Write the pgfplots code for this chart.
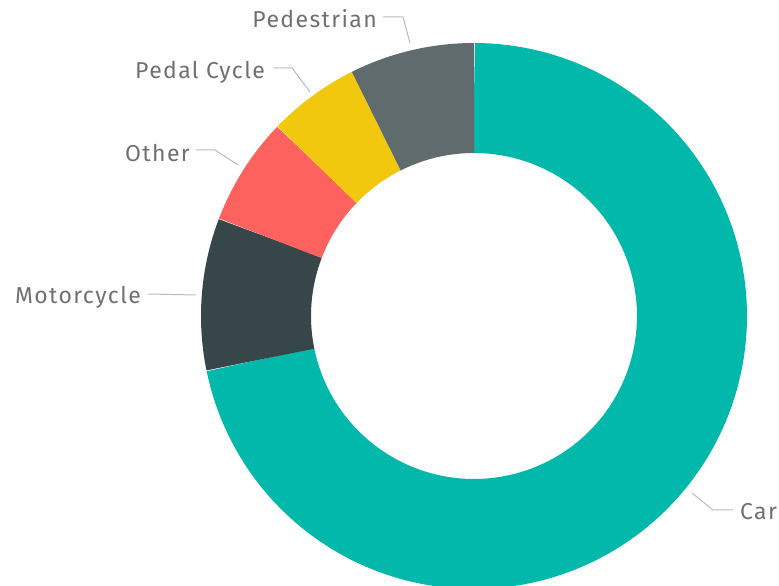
\documentclass[border=0pt]{standalone}
\usepackage{pgfplots}
\pgfplotsset{compat=1.18}
\usepackage{fontspec}
\setmainfont{Fira Sans}
\newfontfamily\labfont[LetterSpace=6]{Fira Sans}
\definecolor{cCar}{HTML}{01B8AA}
\definecolor{cMoto}{HTML}{374649}
\definecolor{cOther}{HTML}{FD625E}
\definecolor{cPedal}{HTML}{F2C80F}
\definecolor{cPed}{HTML}{5F6B6D}
\definecolor{lab}{HTML}{707070}
\definecolor{lead}{HTML}{BBBBBB}
% shares (percent)
\def\vCar{71.8}
\def\vMoto{9.0}
\def\vOther{6.4}
\def\vPedal{5.4}
\def\vPed{7.4}
\pgfmathsetmacro\aA{90}
\pgfmathsetmacro\aB{\aA-3.6*\vCar}
\pgfmathsetmacro\aC{\aB-3.6*\vMoto}
\pgfmathsetmacro\aD{\aC-3.6*\vOther}
\pgfmathsetmacro\aE{\aD-3.6*\vPedal}
\pgfmathsetmacro\aF{\aE-3.6*\vPed}
\begin{document}
\begin{tikzpicture}
\useasboundingbox (0,0) rectangle (779pt,586pt);
\begin{axis}[at={(0,0)}, anchor=south west, scale only axis, width=779pt, height=586pt,
  xmin=0, xmax=779, ymin=0, ymax=586, hide axis, clip=true]
\pgfplotsset{slice/.style={line width=110pt, samples=150, variable=\t, no markers, line cap=butt, line join=round}}
\addplot[cCar, slice, domain=\aB:\aA] ({474+218*cos(\t)},{270+218*sin(\t)});
\addplot[cMoto, slice, domain=\aC:\aB] ({474+218*cos(\t)},{270+218*sin(\t)});
\addplot[cOther, slice, domain=\aD:\aC] ({474+218*cos(\t)},{270+218*sin(\t)});
\addplot[cPedal, slice, domain=\aE:\aD] ({474+218*cos(\t)},{270+218*sin(\t)});
\addplot[cPed, slice, domain=\aF:\aE] ({474+218*cos(\t)},{270+218*sin(\t)});
% leader lines
\draw[lead, line width=1pt] (axis cs:383,569) -- (axis cs:403,569) -- (axis cs:410,543);
\draw[lead, line width=1pt] (axis cs:273,518) -- (axis cs:292,518) -- (axis cs:310,494);
\draw[lead, line width=1pt] (axis cs:196,436) -- (axis cs:215,436) -- (axis cs:238,421);
\draw[lead, line width=1pt] (axis cs:148,292) -- (axis cs:196,291);
\draw[lead, line width=1pt] (axis cs:733,76) -- (axis cs:713,76) -- (axis cs:692,93);
% labels
\begin{scope}[every node/.style={text=lab, inner sep=0pt, font=\labfont\fontsize{23}{26}\selectfont}]
\node[anchor=base east] at (axis cs:377,558) {Pedestrian};
\node[anchor=base east] at (axis cs:265,507) {Pedal Cycle};
\node[anchor=base east] at (axis cs:190,424) {Other};
\node[anchor=base east] at (axis cs:141,282) {Motorcycle};
\node[anchor=base west] at (axis cs:740,66) {Car};
\end{scope}
\end{axis}
\end{tikzpicture}
\end{document}
